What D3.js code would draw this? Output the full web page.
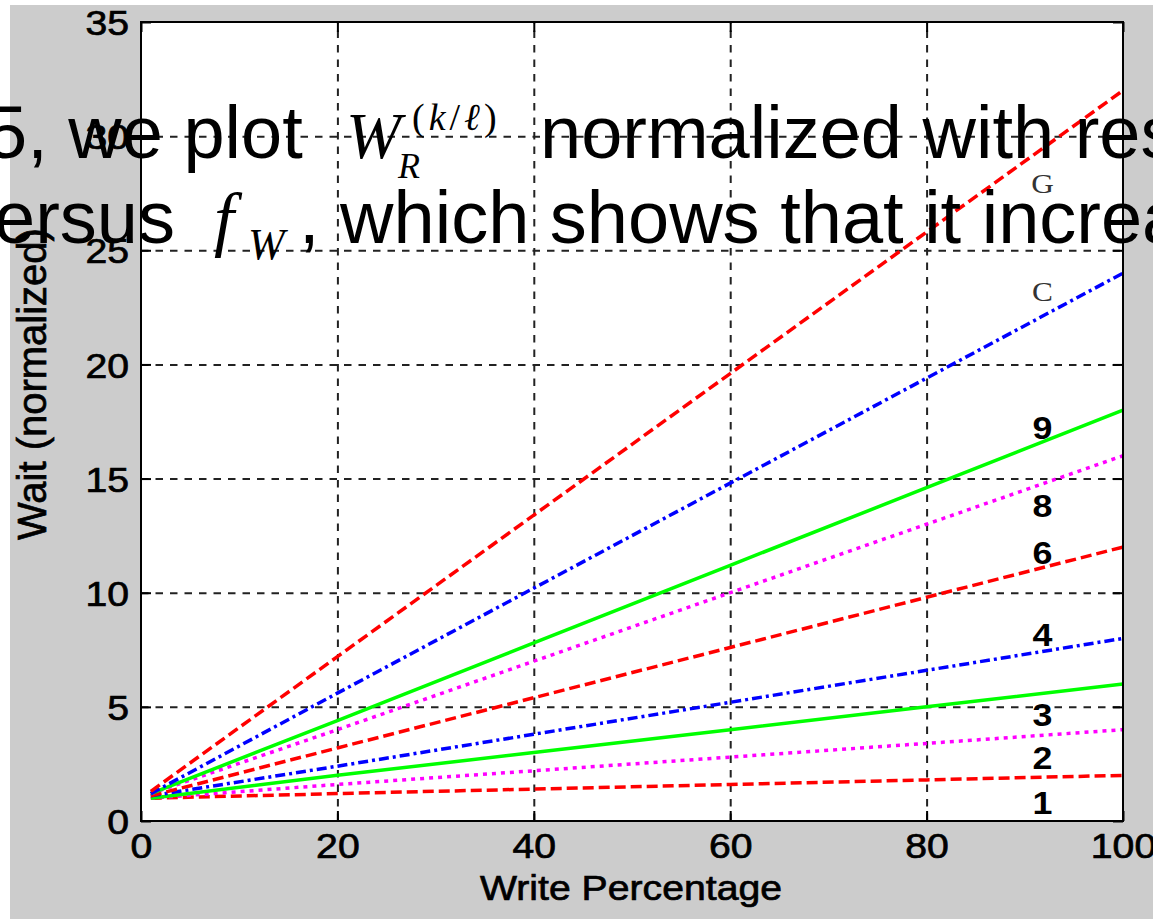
<!doctype html>
<html>
<head>
<meta charset="utf-8">
<script src="https://cdn.jsdelivr.net/npm/d3@7"></script>
<style>
  body { margin:0; background:#fff; }
  svg { display:block; }
  .tick text { font-family:"Liberation Sans",Arial,sans-serif; font-size:35px; fill:#000; stroke:#000; stroke-width:0.7; }
  .ttl { font-family:"Liberation Sans",Arial,sans-serif; fill:#000; stroke:#000; stroke-width:0.7; }
  .grid line { stroke:#222; stroke-width:2; stroke-dasharray:7.5,7; }
  .grid path { display:none; }
  .box path { display:none; }
  .box line { stroke:#000; stroke-width:2; }
  .series { fill:none; stroke-width:3.5; }
  .overlay { font-family:"Liberation Sans",Arial,sans-serif; font-size:74px; fill:#000; }
  .math { font-family:"Liberation Serif","Times New Roman",serif; font-style:italic; }
</style>
</head>
<body>
<script>
// write percentage sample points
var writePct = [1, 20, 40, 60, 80, 100];

// normalized wait
var w1 = [1.0, 1.2, 1.4, 1.6, 1.8, 2.0];
var w2 = [1.0, 1.6, 2.2, 2.8, 3.4, 4.0];
var w3 = [1.0, 2.0, 3.0, 4.0, 5.0, 6.0];
var w4 = [1.1, 2.4, 3.8, 5.2, 6.6, 8.0];
var w6 = [1.1, 3.2, 5.4, 7.6, 9.8, 12.0];
var w8 = [1.2, 4.0, 7.0, 10.0, 13.0, 16.0];
var w9 = [1.2, 4.4, 7.8, 11.2, 14.6, 18.0];
var wC = [1.2, 5.6, 10.2, 14.8, 19.4, 24.0];
var wG = [1.3, 7.2, 13.4, 19.6, 25.8, 32.0];

var seriesNames = ["1", "2", "3", "4", "6", "8", "9", "C", "G"];
var seriesValues = [w1, w2, w3, w4, w6, w8, w9, wC, wG];
// where each curve name sits (wait units), all at the same write percentage
var labelWait = [0.3, 2.28, 4.17, 7.68, 11.27, 13.3, 16.75, 22.8, 27.5];
var labelPct = 91.8;

var xTicks = [0, 20, 40, 60, 80, 100];
var yTicks = [0, 5, 10, 15, 20, 25, 30, 35];

// line look per series (matlab style)
var looks = {
    "1": {c:"#ff0000", d:"11,5"},
    "2": {c:"#ff00ff", d:"4,5"},
    "3": {c:"#00ff00", d:null},
    "4": {c:"#0000ff", d:"10,4,3,4"},
    "6": {c:"#ff0000", d:"11,5"},
    "8": {c:"#ff00ff", d:"4,5"},
    "9": {c:"#00ff00", d:null},
    "C": {c:"#0000ff", d:"10,4,3,4"},
    "G": {c:"#ff0000", d:"11,5"}
};

var pLeft = 141, pTop = 22, pRight = 1123, pBottom = 821;
var pW = pRight - pLeft, pH = pBottom - pTop;

var svg = d3.select("body").append("svg").attr("width",1153).attr("height",919);

//grey figure background
svg.append("rect").attr("x",10).attr("y",5).attr("width",1143).attr("height",914).attr("fill","#cccccc");

var x = d3.scaleLinear().domain([0,100]).range([pLeft,pRight]);
var y = d3.scaleLinear().domain([0,35]).range([pBottom,pTop]);

//plot area
svg.append("rect").attr("x",pLeft).attr("y",pTop).attr("width",pW).attr("height",pH).attr("fill","#fff");

//dashed grid
svg.append("g").attr("class","grid")
    .attr("transform","translate(0,"+pBottom+")")
    .call(d3.axisBottom(x).tickValues([20,40,60,80]).tickSize(-pH).tickFormat(""));
svg.append("g").attr("class","grid")
    .attr("transform","translate("+pLeft+",0)")
    .call(d3.axisLeft(y).tickValues([5,10,15,20,25,30]).tickSize(-pW).tickFormat(""));

//curves
var line = d3.line()
    .x(function(d,i) { return x(writePct[i]); })
    .y(function(d) { return y(d); });

svg.append("g").selectAll("path")
    .data(seriesNames)
    .enter().append("path")
    .attr("class","series")
    .attr("d", function(d,i) { return line(seriesValues[i]); })
    .attr("stroke", function(d) { return looks[d].c; })
    .attr("stroke-dasharray", function(d) { return looks[d].d; });

//box with inward ticks
svg.append("rect").attr("x",pLeft).attr("y",pTop).attr("width",pW).attr("height",pH)
    .attr("fill","none").attr("stroke","#000").attr("stroke-width",2);

var xb = svg.append("g").attr("class","box").attr("transform","translate(0,"+pBottom+")")
    .call(d3.axisBottom(x).tickValues(xTicks).tickSizeInner(-10).tickSizeOuter(0).tickPadding(12));
svg.append("g").attr("class","box").attr("transform","translate(0,"+pTop+")")
    .call(d3.axisTop(x).tickValues(xTicks).tickSizeInner(-10).tickSizeOuter(0).tickFormat(""));
var yb = svg.append("g").attr("class","box").attr("transform","translate("+pLeft+",0)")
    .call(d3.axisLeft(y).tickValues(yTicks).tickSizeInner(-10).tickSizeOuter(0).tickPadding(12));
svg.append("g").attr("class","box").attr("transform","translate("+pRight+",0)")
    .call(d3.axisRight(y).tickValues(yTicks).tickSizeInner(-10).tickSizeOuter(0).tickFormat(""));

xb.selectAll("text").attr("transform","scale(1.12,1)").attr("dy","0.72em").attr("x",0);
yb.selectAll("text").attr("transform","scale(1.12,1)").attr("dy","0.36em").attr("x",-12/1.12);

//axis titles
svg.append("text").attr("class","ttl")
    .attr("transform","translate(631,900) scale(1.12,1)")
    .attr("text-anchor","middle")
    .style("font-size","35px")
    .text("Write Percentage");

svg.append("text").attr("class","ttl")
    .attr("transform","translate(46,540) rotate(-90)")
    .attr("text-anchor","start")
    .style("font-size","40px")
    .text("Wait (normalized)");

//curve names
svg.append("g").selectAll("text")
    .data(seriesNames)
    .enter().append("text")
    .attr("transform", function(d,i) { return "translate("+x(labelPct)+","+y(labelWait[i])+") scale(1.12,1)"; })
    .attr("text-anchor","middle")
    .style("font-family", function(d) { return (d=="C"||d=="G") ? "Liberation Serif,Times New Roman,serif" : "Liberation Sans,Arial,sans-serif"; })
    .style("font-weight", function(d) { return (d=="C"||d=="G") ? "normal" : "bold"; })
    .style("font-size", function(d) { return (d=="C"||d=="G") ? "28px" : "32px"; })
    .style("fill", function(d) { return (d=="C"||d=="G") ? "#333" : "#000"; })
    .text(function(d) { return d; });

//pasted text lying over the figure
var ov = svg.append("g").attr("class","overlay");

ov.append("text").attr("x",-14).attr("y",158).text("5, we plot");
var wr = ov.append("text").attr("class","math");
wr.append("tspan").attr("x",346).attr("y",158).style("font-size","66px").text("W");
wr.append("tspan").attr("x",398).attr("y",178).style("font-size","36px").text("R");
var sup = ov.append("text").attr("class","math").attr("y",130).style("font-size","38px").style("letter-spacing","4px");
sup.append("tspan").attr("x",412).style("font-style","normal").text("(");
sup.append("tspan").text("k");
sup.append("tspan").style("font-style","normal").text("/");
sup.append("tspan").text("\u2113");
sup.append("tspan").style("font-style","normal").text(")");
ov.append("text").attr("x",540).attr("y",158).text("normalized with respect");

ov.append("text").attr("x",-43).attr("y",243).text("versus");
var fw = ov.append("text").attr("class","math");
fw.append("tspan").attr("x",214).attr("y",243).style("font-size","72px").text("f");
fw.append("tspan").attr("x",248).attr("y",259).style("font-size","44px").text("W");
ov.append("text").attr("x",299).attr("y",243).text(", which shows that it increases");
</script>
</body>
</html>
